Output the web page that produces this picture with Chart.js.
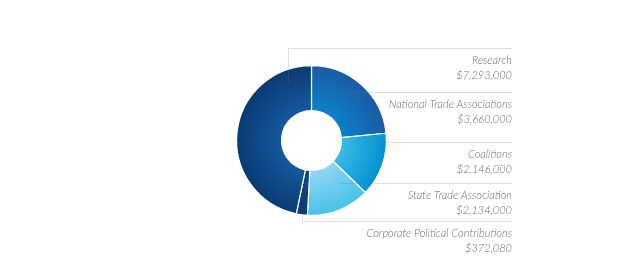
<!DOCTYPE html>
<html>
<head>
<meta charset="utf-8">
<script src="https://cdn.jsdelivr.net/npm/chart.js@4"></script>
<style>
  html, body { margin: 0; padding: 0; background: #fff; }
  #wrap { width: 640px; height: 280px; }
</style>
</head>
<body>
<div id="wrap"><canvas id="chart" width="640" height="280"></canvas></div>
<script>
'use strict';

// ── Data (clockwise from 12 o'clock) ───────────────────────
const categories = [
  'National Trade Associations',
  'Coalitions',
  'State Trade Association',
  'Corporate Political Contributions',
  'Research'
];
const amounts = [3660000, 2146000, 2134000, 372080, 7293000];
const amountLabels = ['$3,660,000', '$2,146,000', '$2,134,000', '$372,080', '$7,293,000'];

// inner / outer gradient colours per slice
const innerColors = ['#0a82c8', '#3cb9e6', '#8fd6f3', '#0d4a88', '#15599f'];
const outerColors = ['#1b5aa4', '#0091d1', '#46c1e8', '#0a3a70', '#093a70'];

// label layout: where the leader leaves the slice (fraction along arc, fraction across ring)
const leaders = [
  { idx: 4, along: 0.868, across: 0.71, lineY: 48 },   // Research (elbow up)
  { idx: 0, along: 0.375, across: 0.61 },              // National
  { idx: 1, along: 0.145, across: 0.52 },              // Coalitions
  { idx: 2, along: 0.267, across: 0.46 },              // State
  { idx: 3, along: 0.47,  across: 1.0,  lineY: 221 }   // Corporate (elbow down)
];
const RIGHT_X = 512;

function sliceGradient(ctx, i) {
  const chart = ctx.chart;
  const area = chart.chartArea;
  if (!area) return outerColors[i];
  const cx = (area.left + area.right) / 2;
  const cy = (area.top + area.bottom) / 2;
  const r = Math.min(area.right - area.left, area.bottom - area.top) / 2;
  const g = chart.ctx.createRadialGradient(cx, cy, 0, cx, cy, r);
  g.addColorStop(0.4, innerColors[i]);
  g.addColorStop(1, outerColors[i]);
  return g;
}

const leaderPlugin = {
  id: 'leaders',
  afterDatasetsDraw(chart) {
    const meta = chart.getDatasetMeta(0);
    const c = chart.ctx;
    c.save();
    leaders.forEach(l => {
      const arc = meta.data[l.idx];
      const p = arc.getProps(['x', 'y', 'startAngle', 'endAngle', 'innerRadius', 'outerRadius'], true);
      const a = p.startAngle + (p.endAngle - p.startAngle) * l.along;
      const r = p.innerRadius + (p.outerRadius - p.innerRadius) * l.across;
      const ax = Math.round(p.x + r * Math.cos(a)) + 0.5;
      const ay = Math.round(p.y + r * Math.sin(a)) + 0.5;
      const ly = l.lineY !== undefined ? l.lineY + 0.5 : ay;

      c.beginPath();
      c.setLineDash([1, 1]);
      c.lineWidth = 1;
      c.strokeStyle = 'rgba(110,110,110,0.45)';
      c.moveTo(ax, ay);
      if (ly !== ay) c.lineTo(ax, ly);
      c.lineTo(RIGHT_X, ly);
      c.stroke();

      c.setLineDash([]);
      c.fillStyle = '#6e6e6e';
      c.font = 'italic 300 11px Lato';
      c.textAlign = 'right';
      c.textBaseline = 'alphabetic';
      c.fillText(categories[l.idx], RIGHT_X, ly + 15.5);
      c.fillText(amountLabels[l.idx], RIGHT_X, ly + 30.5);
    });
    c.restore();
  }
};

new Chart(document.getElementById('chart'), {
  type: 'doughnut',
  data: {
    labels: categories,
    datasets: [{
      data: amounts,
      backgroundColor: ctx => sliceGradient(ctx, ctx.dataIndex),
      borderColor: '#ffffff',
      borderWidth: 1.2
    }]
  },
  options: {
    responsive: false,
    animation: false,
    cutout: '40%',
    layout: { padding: { left: 236, right: 253, top: 65, bottom: 64 } },
    plugins: { legend: { display: false }, tooltip: { enabled: false } }
  },
  plugins: [leaderPlugin]
});
</script>
</body>
</html>
